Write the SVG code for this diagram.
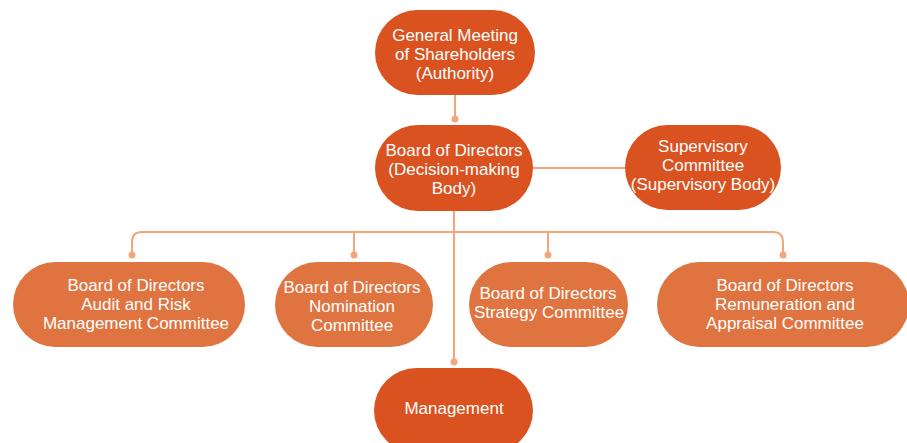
<svg xmlns="http://www.w3.org/2000/svg" width="907" height="443" viewBox="0 0 907 443">
<style>
.dk{fill:#D9521F}
.lt{fill:#E07440}
.ln{fill:none;stroke:#F2A67A;stroke-width:2}
.dot{fill:#F2A67A}
text{font-family:"Liberation Sans",Arial,sans-serif;font-size:17px;fill:#fff;text-anchor:middle}
</style>
<rect width="907" height="443" fill="#fff"/>
<g id="connectors">
<path class="ln" d="M455 95 V119"/>
<circle class="dot" cx="455" cy="119" r="3.5"/>
<path class="ln" d="M533 168 H625"/>
<path class="ln" d="M454 211 V362"/>
<circle class="dot" cx="454" cy="362" r="3.5"/>
<path class="ln" d="M132 255 V242 Q132 232 142 232 H773 Q783 232 783 242 V255"/>
<path class="ln" d="M354 232 V255"/>
<path class="ln" d="M548 232 V255"/>
<circle class="dot" cx="132" cy="255" r="3.5"/>
<circle class="dot" cx="354" cy="255" r="3.5"/>
<circle class="dot" cx="548" cy="255" r="3.5"/>
<circle class="dot" cx="783" cy="255" r="3.5"/>
</g>
<g id="gms">
<rect class="dk" x="375" y="10" width="160" height="85" rx="42.5"/>
<text x="455" y="41">General Meeting</text>
<text x="455" y="60">of Shareholders</text>
<text x="455" y="79">(Authority)</text>
</g>
<g id="board">
<rect class="dk" x="375" y="125" width="158" height="86" rx="43"/>
<text x="454" y="156">Board of Directors</text>
<text x="454" y="175">(Decision-making</text>
<text x="454" y="194">Body)</text>
</g>
<g id="supervisory">
<rect class="dk" x="625" y="125" width="156" height="85" rx="42.5"/>
<text x="703" y="152">Supervisory</text>
<text x="703" y="171">Committee</text>
<text x="703" y="190">(Supervisory Body)</text>
</g>
<g id="audit">
<rect class="lt" x="13" y="262" width="232" height="85" rx="42.5"/>
<text x="136" y="291">Board of Directors</text>
<text x="136" y="310">Audit and Risk</text>
<text x="136" y="329">Management Committee</text>
</g>
<g id="nomination">
<rect class="lt" x="275" y="262" width="158" height="85" rx="42.5"/>
<text x="352" y="293">Board of Directors</text>
<text x="352" y="312">Nomination</text>
<text x="352" y="331">Committee</text>
</g>
<g id="strategy">
<rect class="lt" x="469" y="262" width="159" height="85" rx="42.5"/>
<text x="548" y="299">Board of Directors</text>
<text x="549" y="318">Strategy Committee</text>
</g>
<g id="remuneration">
<rect class="lt" x="657" y="262" width="252" height="85" rx="42.5"/>
<text x="785" y="291">Board of Directors</text>
<text x="785" y="310">Remuneration and</text>
<text x="785" y="329">Appraisal Committee</text>
</g>
<g id="management">
<rect class="dk" x="374" y="368" width="159" height="85" rx="42.5"/>
<text x="454" y="414">Management</text>
</g>
</svg>
